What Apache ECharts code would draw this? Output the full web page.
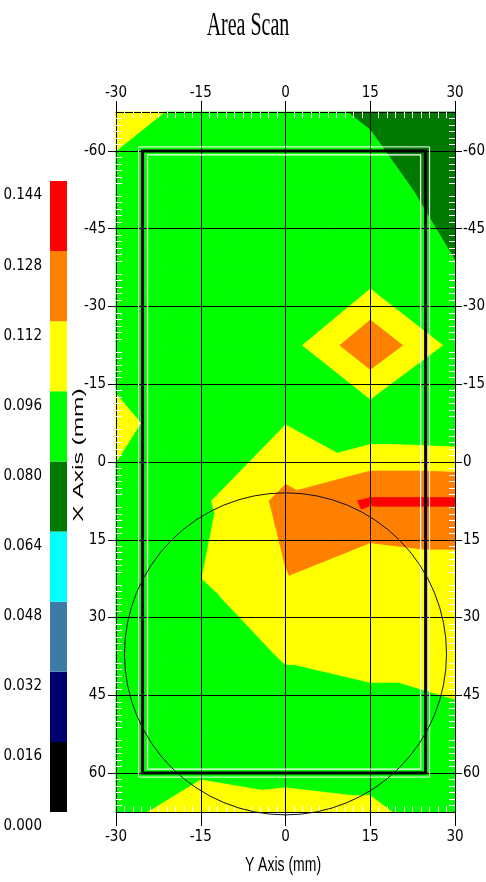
<!DOCTYPE html>
<html>
<head>
<meta charset="utf-8">
<title>Area Scan</title>
<script src="https://cdn.jsdelivr.net/npm/echarts@6/dist/echarts.min.js"></script>
<style>
  html, body { margin: 0; padding: 0; background: #fff; }
  #chart { width: 486px; height: 882px; }
</style>
</head>
<body>
<div id="chart"></div>
<script>
// scan grid: columns along the Y axis, rows along the X axis (mm)
var colY = [-30, -15, 0, 15, 30];
var rowX = [-67.5, -52.5, -37.5, -22.5, -7.5, 7.5, 22.5, 37.5, 52.5, 67.5];
// one row of readings per rowX entry
var scan = [
  [0.100, 0.093, 0.088, 0.077, 0.072],
  [0.092, 0.092, 0.091, 0.090, 0.070],
  [0.090, 0.089, 0.088, 0.085, 0.081],
  [0.091, 0.089, 0.0887, 0.125, 0.091],
  [0.099, 0.0887, 0.0955, 0.083, 0.081],
  [0.093, 0.093, 0.1165, 0.130, 0.130],
  [0.091, 0.0958, 0.1112, 0.0965, 0.101],
  [0.089, 0.090, 0.0967, 0.099, 0.1033],
  [0.090, 0.089, 0.090, 0.090, 0.090],
  [0.093, 0.1009, 0.0987, 0.0976, 0.0914]
];
// colour scale
var levels = [0, 0.016, 0.032, 0.048, 0.064, 0.080, 0.096, 0.112, 0.128, 0.144];
var bandColors = ['#000000', '#00006e', '#3c7ca4', '#00ffff', '#007a00', '#00ff00', '#ffff00', '#ff8000', '#ff0000'];
// tick labels
var yTicks = [-30, -15, 0, 15, 30];
var xTicks = [-60, -45, -30, -15, 0, 15, 30, 45, 60];
// outlines: rect [yMin, xMin, yMax, xMax], circle [y, x, r] (mm)
var outlineRect = [-25.3, -60, 24.8, 60];
var outlineCircle = [0, 37, 28.5];

var narrow = "'Liberation Sans Narrow', 'Arial Narrow', 'DejaVu Sans Condensed', sans-serif";

var cells = [];
for (var r = 0; r < rowX.length - 1; r++) {
  for (var c = 0; c < colY.length - 1; c++) {
    cells.push([colY[c], rowX[r], c, r]);
  }
}
var bands = bandColors.map(function (col, i) {
  return [0.5, (levels[i] + levels[i + 1]) / 2, i];
});

// keep the part of a polygon where sign*(v-level) >= 0
function clip(poly, level, sign) {
  var out = [];
  for (var i = 0; i < poly.length; i++) {
    var a = poly[i], b = poly[(i + 1) % poly.length];
    var ina = sign * (a[2] - level) >= 0, inb = sign * (b[2] - level) >= 0;
    if (ina) out.push(a);
    if (ina !== inb) {
      var t = (level - a[2]) / (b[2] - a[2]);
      out.push([a[0] + t * (b[0] - a[0]), a[1] + t * (b[1] - a[1]), level]);
    }
  }
  return out;
}

function renderCell(params, api) {
  var c = api.value(2), r = api.value(3);
  var p00 = [colY[c], rowX[r], scan[r][c]];
  var p10 = [colY[c + 1], rowX[r], scan[r][c + 1]];
  var p01 = [colY[c], rowX[r + 1], scan[r + 1][c]];
  var p11 = [colY[c + 1], rowX[r + 1], scan[r + 1][c + 1]];
  var tris;
  if (Math.abs(p00[2] - p11[2]) <= Math.abs(p10[2] - p01[2])) {
    tris = [[p00, p10, p11], [p00, p11, p01]];
  } else {
    tris = [[p00, p10, p01], [p10, p11, p01]];
  }
  var children = [];
  tris.forEach(function (tri) {
    for (var k = 0; k < bandColors.length; k++) {
      var lo = k === 0 ? -Infinity : levels[k];
      var hi = k === bandColors.length - 1 ? Infinity : levels[k + 1];
      var poly = clip(clip(tri, lo, 1), hi, -1);
      if (poly.length < 3) continue;
      children.push({
        type: 'polygon',
        shape: { points: poly.map(function (p) { return api.coord([p[0], p[1]]); }) },
        style: { fill: bandColors[k], stroke: bandColors[k], lineWidth: 0.8 },
        silent: true
      });
    }
  });
  return { type: 'group', children: children };
}

function renderBand(params, api) {
  var k = api.value(2);
  var a = api.coord([0, levels[k + 1]]);
  var b = api.coord([1, levels[k]]);
  return {
    type: 'rect',
    shape: { x: a[0], y: a[1], width: b[0] - a[0], height: b[1] - a[1] },
    style: { fill: bandColors[k] }
  };
}

function renderOutline(params, api) {
  var tl = api.coord([outlineRect[0], outlineRect[1]]);
  var br = api.coord([outlineRect[2], outlineRect[3]]);
  var w = br[0] - tl[0], h = br[1] - tl[1];
  var cc = api.coord([outlineCircle[0], outlineCircle[1]]);
  var rad = api.size([outlineCircle[2], 0])[0];
  return {
    type: 'group',
    children: [
      { type: 'rect', shape: { x: tl[0] - 4, y: tl[1] - 4, width: w + 8, height: h + 8 }, style: { fill: 'none', stroke: '#fff', lineWidth: 1 } },
      { type: 'rect', shape: { x: tl[0] + 5, y: tl[1] + 4, width: w - 10, height: h - 8 }, style: { fill: 'none', stroke: '#fff', lineWidth: 1.2 } },
      { type: 'rect', shape: { x: tl[0], y: tl[1], width: w, height: h }, style: { fill: 'none', stroke: '#000', lineWidth: 3 } },
      { type: 'circle', shape: { cx: cc[0], cy: cc[1], r: rad }, style: { fill: 'none', stroke: '#111', lineWidth: 1 } }
    ]
  };
}

var labelStyle = { color: '#000', fontFamily: narrow, fontSize: 15 };

function hAxis(pos, tickLen, margin, split) {
  return {
    gridIndex: 0, type: 'value', position: pos, z: 5,
    min: yTicks[0], max: yTicks[yTicks.length - 1], interval: yTicks[1] - yTicks[0],
    axisLine: { onZero: false, lineStyle: { color: '#000', width: 1 } },
    axisTick: { length: tickLen, lineStyle: { color: '#000', width: 1 } },
    axisLabel: Object.assign({ margin: margin, showMinLabel: true, showMaxLabel: true }, labelStyle),
    splitLine: { show: split, lineStyle: { color: '#000', width: 1 } }
  };
}
function hMinor(pos) {
  return {
    gridIndex: 0, type: 'value', position: pos, z: 5,
    min: yTicks[0], max: yTicks[yTicks.length - 1], interval: yTicks[1] - yTicks[0],
    axisLine: { show: false, onZero: false },
    axisTick: { show: false, inside: true },
    axisLabel: { show: false },
    splitLine: { show: false },
    minorTick: { show: true, splitNumber: 10, length: 6, lineStyle: { color: '#fff', width: 1 } }
  };
}
function vAxis(pos, tickLen, margin, split) {
  return {
    gridIndex: 0, type: 'value', position: pos, inverse: true, z: 5,
    min: rowX[0], max: rowX[rowX.length - 1], interval: 7.5,
    axisLine: { onZero: false, lineStyle: { color: '#000', width: 1 } },
    axisTick: { length: tickLen, customValues: xTicks, lineStyle: { color: '#000', width: 1 } },
    axisLabel: Object.assign({ margin: margin, customValues: xTicks }, labelStyle),
    splitLine: { show: split, lineStyle: { color: '#000', width: 1 } }
  };
}
function vMinor(pos) {
  return {
    gridIndex: 0, type: 'value', position: pos, inverse: true, z: 5,
    min: rowX[0], max: rowX[rowX.length - 1], interval: 7.5,
    axisLine: { show: false, onZero: false },
    axisTick: { show: false, inside: true },
    axisLabel: { show: false },
    splitLine: { show: false },
    minorTick: { show: true, splitNumber: 6, length: 6, lineStyle: { color: '#fff', width: 1 } }
  };
}

var chart = echarts.init(document.getElementById('chart'), null, { renderer: 'canvas' });
chart.setOption({
  backgroundColor: '#fff',
  animation: false,
  grid: [
    { left: 116, top: 112, width: 339, height: 700, outerBoundsMode: 'none' },
    { left: 50, top: 181, width: 17, height: 631, outerBoundsMode: 'none' }
  ],
  xAxis: [
    hAxis('bottom', 14, 18, true),
    hAxis('top', 11, 11, false),
    hMinor('bottom'),
    hMinor('top'),
    { gridIndex: 1, type: 'value', min: 0, max: 1, show: false }
  ],
  yAxis: [
    vAxis('left', 8, 10, true),
    vAxis('right', 7, 8, false),
    vMinor('left'),
    vMinor('right'),
    {
      gridIndex: 1, type: 'value', position: 'left',
      min: levels[0], max: levels[levels.length - 1], interval: levels[1] - levels[0],
      axisLine: { show: false }, axisTick: { show: false }, splitLine: { show: false },
      axisLabel: {
        margin: 8, color: '#000', fontFamily: narrow, fontSize: 15,
        verticalAlign: 'top', padding: [7, 0, 0, 0],
        showMinLabel: true, showMaxLabel: true,
        formatter: function (v) { return v.toFixed(3); }
      }
    }
  ],
  graphic: [
    { type: 'text', x: 248, y: 26, scaleY: 1.7, z: 10,
      style: { text: 'Area Scan', font: '20px "Liberation Serif"', fill: '#000', align: 'center', verticalAlign: 'middle', textAlign: 'center', textVerticalAlign: 'middle' } },
    { type: 'text', x: 79, y: 455, rotation: Math.PI / 2, scaleX: 1.75, z: 10,
      style: { text: 'X Axis (mm)', font: '14px "Liberation Sans"', fill: '#000', align: 'center', verticalAlign: 'middle', textAlign: 'center', textVerticalAlign: 'middle' } },
    { type: 'text', x: 283, y: 866, scaleY: 1.4, z: 10,
      style: { text: 'Y Axis (mm)', font: '14px "Liberation Sans"', fill: '#000', align: 'center', verticalAlign: 'middle', textAlign: 'center', textVerticalAlign: 'middle' } }
  ],
  series: [
    {
      name: 'scan', type: 'custom', xAxisIndex: 0, yAxisIndex: 0, z: 1,
      renderItem: renderCell, encode: { x: 0, y: 1 }, data: cells, silent: true
    },
    {
      name: 'outline', type: 'custom', xAxisIndex: 0, yAxisIndex: 0, z: 10,
      renderItem: renderOutline, encode: { x: 0, y: 1 }, data: [[0, 0]], silent: true
    },
    {
      name: 'scale', type: 'custom', xAxisIndex: 4, yAxisIndex: 4,
      renderItem: renderBand, encode: { x: 0, y: 1 }, data: bands, silent: true
    }
  ]
});
</script>
</body>
</html>
